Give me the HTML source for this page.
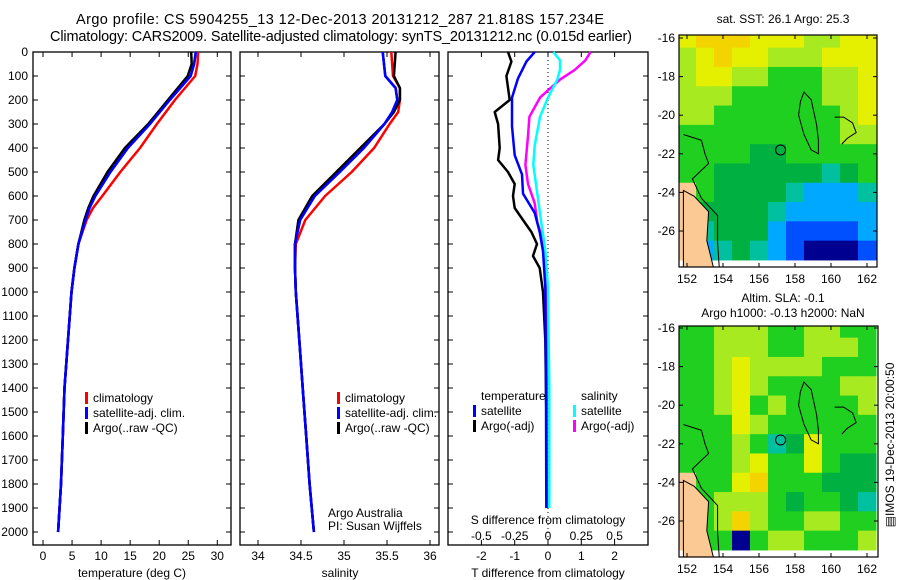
<!DOCTYPE html>
<html><head><meta charset="utf-8"><style>
html,body{margin:0;padding:0;background:#fff;}
svg{display:block;font-family:"Liberation Sans",sans-serif;}
</style></head><body>
<svg id="fig" width="900" height="580" viewBox="0 0 900 580">
<text x="340" y="24" text-anchor="middle" font-size="14.5" textLength="528">Argo profile: CS 5904255_13 12-Dec-2013 20131212_287 21.818S 157.234E</text>
<text x="341" y="41" text-anchor="middle" font-size="14.5" textLength="582">Climatology: CARS2009. Satellite-adjusted climatology: synTS_20131212.nc (0.015d earlier)</text>
<g id="plots"></g>
</svg>
<script>
// ---- data ----
const tDepth=[0,50,100,200,300,400,500,600,650,700,800,900,1000,1200,1400,1600,1800,2000];
const tClim=[26.7,26.6,26.2,22.7,19.6,16.7,13.3,10.2,8.6,7.5,6.1,5.4,4.9,4.3,3.7,3.4,3.1,2.6];
const tSat=[26.3,26.0,25.4,21.8,18.4,14.6,11.6,9.0,8.0,7.3,6.1,5.4,4.9,4.3,3.7,3.4,3.1,2.6];
const tArgo=[25.5,25.6,24.9,21.5,18.1,14.1,11.1,8.7,7.8,7.1,6.1,5.4,4.9,4.3,3.7,3.4,3.1,2.6];
const sDepth=[0,100,150,200,250,300,400,500,600,700,800,900,1000,1200,1400,1600,1800,2000];
const sClim=[35.55,35.57,35.65,35.65,35.63,35.53,35.35,35.09,34.78,34.55,34.44,34.43,34.44,34.48,34.52,34.56,34.60,34.65];
const sSat=[35.45,35.48,35.6,35.62,35.56,35.47,35.23,34.95,34.66,34.49,34.43,34.43,34.44,34.48,34.52,34.56,34.60,34.65];
const sArgo=[35.6,35.58,35.65,35.65,35.58,35.47,35.19,34.91,34.63,34.47,34.43,34.43,34.44,34.48,34.52,34.56,34.60,34.65];
const dtArgoDepth=[0,40,100,200,250,300,400,450,500,550,600,650,700,750,800,850,900,1000,1200,1500,1900];
const dtArgo=[-1.2,-1.1,-1.25,-1.15,-1.6,-1.5,-1.45,-1.5,-1.2,-1.0,-1.05,-1.0,-0.75,-0.5,-0.33,-0.45,-0.25,-0.15,-0.08,-0.05,-0.03];
const dtSatDepth=[0,40,110,190,310,430,510,590,670,750,830,980,1400,1900];
const dtSat=[-0.4,-0.65,-0.9,-1.08,-1.08,-1.0,-0.78,-0.75,-0.4,-0.25,-0.15,-0.08,-0.06,-0.05];
const dsArgoDepth=[0,35,75,115,190,270,350,470,550,630,710,785,865,980,1400,1900];
const dsArgo=[0.32,0.28,0.2,0.09,-0.06,-0.14,-0.15,-0.17,-0.15,-0.1,-0.08,-0.04,-0.02,-0.01,-0.01,-0.01];
const dsSatDepth=[0,35,75,115,190,270,390,470,590,710,825,980,1400,1900];
const dsSat=[0.04,0.09,0.09,0.07,0,-0.06,-0.1,-0.11,-0.08,-0.05,-0.02,0,0.01,0.01];
const depthTicks=[0,100,200,300,400,500,600,700,800,900,1000,1100,1200,1300,1400,1500,1600,1700,1800,1900,2000];
const tTicks=[0,5,10,15,20,25,30];
const sTicks=[34,34.5,35,35.5,36];
const dtTicks=[-2,-1,0,1,2];
const dsTicks=[-0.5,-0.25,0,0.25,0.5];
const lonTicks=[152,154,156,158,160,162];
const latTicks=[-16,-18,-20,-22,-24,-26];
// SST map levels (rows lat -16..-27, cols lon 152..162); 0 = land
const sstGrid=["89998887788","78988777888","78877666778","77766666778","77666666678","66666666677","66665566666","66555555456","06555543334","05555433333","04555322223","03454321112"];
const slaGrid=["66777667766","66777667776","66787777666","66787666677","66786766667","66687666666","66676458666","66678668655","06689666555","06777656654","06797667766","06616776667"];
// ---- helpers ----
const NS="http://www.w3.org/2000/svg";
const root=document.getElementById('plots');
function mk(tag,attrs,parent){const e=document.createElementNS(NS,tag);for(const k in attrs)e.setAttribute(k,attrs[k]);(parent||root).appendChild(e);return e;}
function txt(x,y,s,size,anchor,parent){const e=mk('text',{x:x,y:y,'font-size':size||12,'text-anchor':anchor||'middle'},parent);e.textContent=s;return e;}
const TOP=52,BOT=545;
const yD=d=>TOP+d*0.24;
function panel(x0,x1,name){
  const r=mk('rect',{x:x0,y:TOP,width:x1-x0,height:BOT-TOP,fill:'none',stroke:'#000','stroke-width':1.3});
  
  
  depthTicks.forEach(d=>{mk('line',{x1:x0,x2:x0+5,y1:yD(d),y2:yD(d),stroke:'#000'});mk('line',{x1:x1,x2:x1-5,y1:yD(d),y2:yD(d),stroke:'#000'});});
}
function line(xs,ds,xf,color,name){
  const pts=xs.map((v,i)=>xf(v).toFixed(1)+','+yD(ds[i]).toFixed(1)).join(' ');
  const p=mk('polyline',{points:pts,fill:'none',stroke:color,'stroke-width':2.5,'stroke-linejoin':'round'});
  
  
}
function xticks(ticks,xf,x0,x1,yl,fmt){
  ticks.forEach(t=>{const x=xf(t);mk('line',{x1:x,x2:x,y1:TOP,y2:TOP+5,stroke:'#000'});mk('line',{x1:x,x2:x,y1:BOT,y2:BOT-5,stroke:'#000'});
    const e=txt(x,yl,fmt?fmt(t):String(t),12);
    
    });
}
function legend(x,y,items){
  items.forEach((it,i)=>{mk('rect',{x:x,y:y+i*15-10,width:3,height:12,fill:it[1]});
    const e=txt(x+8,y+i*15,it[0],12,'start');
    
    });
}
// Panel 1: temperature
const xT=t=>43+t*5.81;
panel(33,231,'temperature-panel');
depthTicks.forEach(d=>{const e=txt(28,yD(d)+4,String(d),12,'end');
  
  });
xticks(tTicks,xT,33,231,560);
let e=txt(132,577,'temperature (deg C)',12);


line(tClim,tDepth,xT,'#ff0000','temp-climatology-line');
line(tSat,tDepth,xT,'#0000ff','temp-satellite-line');
line(tArgo,tDepth,xT,'#000000','temp-argo-line');
line(tSat,tDepth,xT,'#0000ff','temp-satellite-line-top');
legend(85,402,[['climatology','#ff0000'],['satellite-adj. clim.','#0000ff'],['Argo(..raw -QC)','#000']]);
// Panel 2: salinity
const xS=s=>258+(s-34)*86;
panel(240,439,'salinity-panel');
xticks(sTicks,xS,240,439,560);
e=txt(340,577,'salinity',12);


line(sClim,sDepth,xS,'#ff0000','sal-climatology-line');
line(sSat,sDepth,xS,'#0000ff','sal-satellite-line');
line(sArgo,sDepth,xS,'#000000','sal-argo-line');
line(sSat,sDepth,xS,'#0000ff','sal-satellite-line-top');
legend(337,402,[['climatology','#ff0000'],['satellite-adj. clim.','#0000ff'],['Argo(..raw -QC)','#000']]);
e=txt(328,517,'Argo Australia',12,'start');
e=txt(328,530,'PI: Susan Wijffels',12,'start');
// Panel 3: differences
const xDT=v=>548+v*33.3;
const xDS=v=>548+v*133.2;
panel(448,648,'difference-panel');
xticks(dtTicks,xDT,448,648,560);
dsTicks.forEach(t=>{const e2=txt(xDS(t),540,String(t),12);});
mk('line',{x1:548,x2:548,y1:TOP,y2:BOT,stroke:'#000','stroke-dasharray':'1,3'});
line(dtArgo,dtArgoDepth,xDT,'#000000','tdiff-argo-line');
line(dsArgo,dsArgoDepth,xDS,'#ff00ff','sdiff-argo-line');
line(dsSat,dsSatDepth,xDS,'#00ffff','sdiff-satellite-line');
line(dtSat,dtSatDepth,xDT,'#0000ff','tdiff-satellite-line');
e=txt(548,524,'S difference from climatology',12);
e=txt(548,577,'T difference from climatology',12);
e=txt(481,400,'temperature',12,'start');
e=txt(581,400,'salinity',12,'start');
legend(473,415,[['satellite','#0000ff'],['Argo(-adj)','#000']]);
legend(573,415,[['satellite','#00ffff'],['Argo(-adj)','#ff00ff']]);
// Maps
const pal={'0':'#fbc993','1':'#000090','2':'#0050ff','3':'#00a8ff','4':'#00c0a0','5':'#00b040','6':'#20d020','7':'#a8ea20','8':'#e4f000','9':'#f4d400'};
function map(grid,x0,x1,top,bot,lat16,lat26,name){
  const xL=lon=>687+(lon-152)*18;
  const yL=lat=>lat16+(-16-lat)*(lat26-lat16)/10;
  const g=mk('g',{});
  
  
  const cp='clip'+name;const c=mk('clipPath',{id:cp},g);mk('rect',{x:x0,y:top,width:x1-x0,height:bot-top},c);
  const gg=mk('g',{'clip-path':'url(#'+cp+')'},g);
  grid.forEach((row,r)=>{[...row].forEach((v,ci)=>{const lon=152+ci,lat=-16-r;
    mk('rect',{x:xL(lon-0.5),y:yL(lat+0.5),width:18.5,height:(lat26-lat16)/10+0.5,fill:pal[v]},gg);});});
  mk('polyline',{points:[[151.8,-21],[152.8,-21.3],[153,-22],[153.2,-22.5],[152.3,-23.3],[152.8,-24.3],[153.7,-25.2],[153.7,-26.6],[153.8,-28]].map(p=>xL(p[0])+','+yL(p[1])).join(' '),fill:'none',stroke:'#000','stroke-width':1},gg);
  mk('polygon',{points:[[158.5,-18.8],[158.9,-19.2],[159.2,-20.5],[159.3,-21.3],[159.3,-22],[158.9,-21.8],[158.5,-21],[158.2,-20],[158.3,-19.3]].map(p=>xL(p[0])+','+yL(p[1])).join(' '),fill:'none',stroke:'#000','stroke-width':1},gg);
  mk('polyline',{points:[[160.2,-20.1],[160.7,-20.1],[161.2,-20.4],[161.4,-20.9],[160.9,-21.2],[160.6,-21.5]].map(p=>xL(p[0])+','+yL(p[1])).join(' '),fill:'none',stroke:'#000','stroke-width':1},gg);
  mk('path',{d:'M'+xL(151.8)+','+yL(-23.9)+' L'+xL(152.4)+','+yL(-24.2)+' L'+xL(153.2)+','+yL(-25)+' L'+xL(153.1)+','+yL(-26.5)+' L'+xL(153.5)+','+yL(-28)+' L'+xL(151.8)+','+yL(-28)+'Z',fill:'#fbc993',stroke:'#000','stroke-width':1},gg);
  mk('circle',{cx:xL(157.2),cy:yL(-21.8),r:5,fill:'none',stroke:'#000','stroke-width':1},gg);
  mk('rect',{x:x0,y:top,width:x1-x0,height:bot-top,fill:'none',stroke:'#000','stroke-width':1.2},g);
  lonTicks.forEach(l=>{const x=xL(l);mk('line',{x1:x,x2:x,y1:top,y2:top+4,stroke:'#000'},g);mk('line',{x1:x,x2:x,y1:bot,y2:bot-4,stroke:'#000'},g);
    const t=txt(x,bot+16,String(l),12,'middle',g);});
  latTicks.forEach(l=>{const y=yL(l);mk('line',{x1:x0,x2:x0+4,y1:y,y2:y,stroke:'#000'},g);mk('line',{x1:x1,x2:x1-4,y1:y,y2:y,stroke:'#000'},g);
    const t=txt(x0-4,y+4,String(l),12,'end',g);});
}
map(sstGrid,679,877,35,267,38,231,'sst-map');
map(slaGrid,679,878,326,557,328,521,'sla-map');
e=txt(783,23,'sat. SST: 26.1 Argo: 25.3',12);
e=txt(783,302,'Altim. SLA: -0.1',12);
e=txt(783,317,'Argo h1000: -0.13 h2000: NaN',12);
e=txt(0,0,'\u25A4IMOS 19-Dec-2013 20:00:50',12,'middle');
e.setAttribute('transform','translate(894,445) rotate(-90)');


</script>
</body></html>
